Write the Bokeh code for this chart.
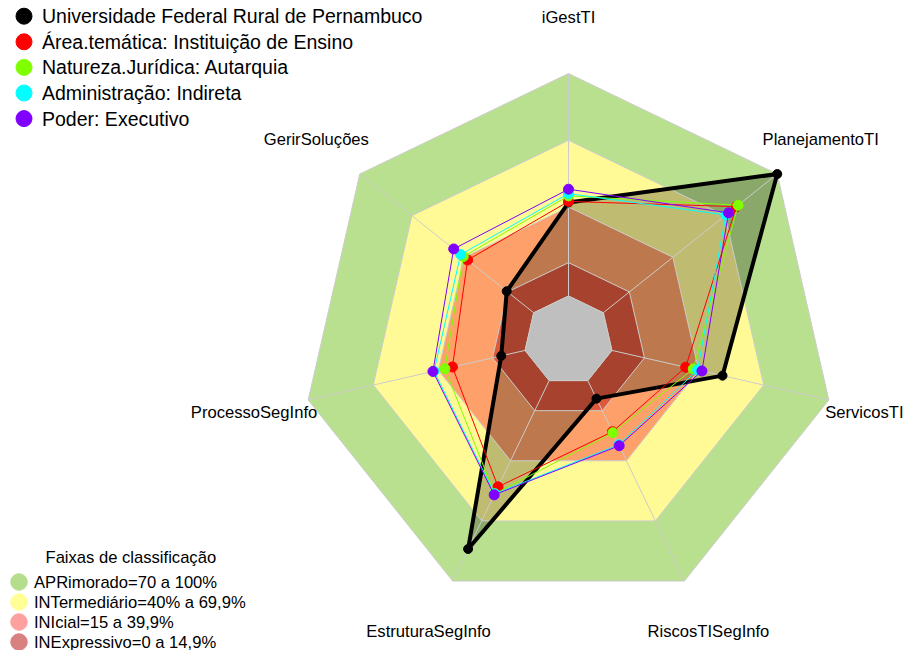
import numpy as np
from bokeh.plotting import figure
from bokeh.models import Range1d
from bokeh.embed import file_html
from bokeh.resources import INLINE
from bokeh.core.properties import value

# ---------------- data ----------------
axis_labels = ["iGestTI", "PlanejamentoTI", "ServicosTI", "RiscosTISegInfo",
               "EstruturaSegInfo", "ProcessoSegInfo", "GerirSoluções"]

series_names = ["Universidade Federal Rural de Pernambuco",
                "Área.temática: Instituição de Ensino",
                "Natureza.Jurídica: Autarquia",
                "Administração: Indireta",
                "Poder: Executivo"]
ufrpe = [42, 100, 51, 9, 84, 11, 15.5]
area_tematica = [42.5, 76.5, 34, 25.5, 53, 33.5, 38]
natureza_juridica = [45, 77.5, 37.5, 26, 56.5, 37, 40.5]
administracao = [46, 70.5, 39.5, 32, 56.5, 42, 42]
poder = [48, 72, 41.5, 32.5, 57, 42.5, 46]
series_values = [ufrpe, area_tematica, natureza_juridica, administracao, poder]
series_colors = ["#000000", "#FF0000", "#7FFF00", "#00FFFF", "#8000FF"]

band_upper = [100, 70, 40, 15]
band_colors = ["#B9E08E", "#FFFA96", "#FDA069", "#DE583C"]
band_labels = ["APRimorado=70 a 100%", "INTermediário=40% a 69,9%",
               "INIcial=15 a 39,9%", "INExpressivo=0 a 14,9%"]
band_legend_colors = ["#B5DE8C", "#FFFF96", "#FFA0A0", "#D98080"]
grid_levels = [0, 15, 40, 70, 100]

# ---------------- geometry ----------------
n = len(axis_labels)
theta = np.pi / 2 - np.arange(n) * 2 * np.pi / n
SEG = 5


def rad(v):
    return 1.0 / (SEG + 1) + (SEG / (SEG + 1)) * (np.asarray(v, dtype=float) / 100.0)


def poly(vals):
    r = rad(vals)
    return list(r * np.cos(theta)), list(r * np.sin(theta))


PXU = 267.0  # pixels per unit radius
CX, CY = 568.0, 340.0  # centre in picture pixels


def pg(X, Y):
    return (X - CX) / PXU, (CY - Y) / PXU


W, H = 905, 650
p = figure(width=W, height=H, output_backend="svg", toolbar_location=None,
           x_range=Range1d((0 - CX) / PXU, (W - CX) / PXU),
           y_range=Range1d((CY - H) / PXU, CY / PXU),
           x_axis_location=None, y_axis_location=None,
           min_border=0, outline_line_color=None, background_fill_color="white",
           border_fill_color="white")
p.grid.visible = False

FONT = value("Liberation Sans")

# bands
for up, col in zip(band_upper, band_colors):
    xs, ys = poly([up] * n)
    p.patch(xs, ys, fill_color=col, line_color=None)

# filled polygon of the main series
xs, ys = poly(series_values[0])
p.patch(xs, ys, fill_color="black", fill_alpha=0.25, line_color=None)

# grid
for lv in grid_levels:
    xs, ys = poly([lv] * n)
    p.line(xs + [xs[0]], ys + [ys[0]], line_color="#CCCCCC", line_width=1)
x0, y0 = poly([0] * n)
x1, y1 = poly([100] * n)
p.multi_line([[a, b] for a, b in zip(x0, x1)], [[a, b] for a, b in zip(y0, y1)],
             line_color="#CCCCCC", line_width=1)

# grey centre
xs, ys = poly([0] * n)
p.patch(xs, ys, fill_color="#BFBFBF", line_color="#CCCCCC", line_width=1)

# series
for i, (vals, col) in enumerate(zip(series_values, series_colors)):
    xs, ys = poly(vals)
    lw = 4 if i == 0 else 1
    p.line(xs + [xs[0]], ys + [ys[0]], line_color=col, line_width=lw, line_join="round")
    p.scatter(xs, ys, size=9 if i == 0 else 10, fill_color=col, line_color=col,
              marker="circle")

# axis labels (ServicosTI kept inside the right edge)
rl = 1.208
lab_x = list(rl * np.cos(theta))
lab_y = list(rl * np.sin(theta))
align = ["center"] * n
lab_x[2] = pg(903, 0)[0]
align[2] = "right"
p.text(lab_x, lab_y, text=axis_labels, text_font=FONT, text_font_size="16.6px",
       text_color="#000000", text_align=align, text_baseline="middle")

# top legend
ly = [15.7, 41.3, 66.9, 92.5, 118.1]
lx = [pg(23.5, Y)[0] for Y in ly]
ly_d = [pg(23.5, Y)[1] for Y in ly]
p.scatter(lx, ly_d, size=16, fill_color=series_colors, line_color=series_colors,
          marker="circle")
tx = [pg(41.5, Y)[0] for Y in ly]
p.text(tx, ly_d, text=series_names, text_font=FONT, text_font_size="19.5px",
       text_color="#000000", text_align="left", text_baseline="middle")

# bottom legend (kept inside the bottom edge)
tx0, ty0 = pg(45, 557)
p.text([tx0], [ty0], text=["Faixas de classificação"], text_font=FONT,
       text_font_size="16.6px", text_color="#000000", text_align="left",
       text_baseline="middle")
by = [581.5, 601.5, 621.5, 641.5]
bx = [pg(18.5, Y)[0] for Y in by]
byd = [pg(18.5, Y)[1] for Y in by]
p.scatter(bx, byd, size=16.5, fill_color=band_legend_colors,
          line_color=band_legend_colors, marker="circle")
btx = [pg(33.5, Y)[0] for Y in by]
p.text(btx, byd, text=band_labels, text_font=FONT, text_font_size="16.6px",
       text_color="#000000", text_align="left", text_baseline="middle")

open("out.html", "w").write(file_html(p, INLINE))
